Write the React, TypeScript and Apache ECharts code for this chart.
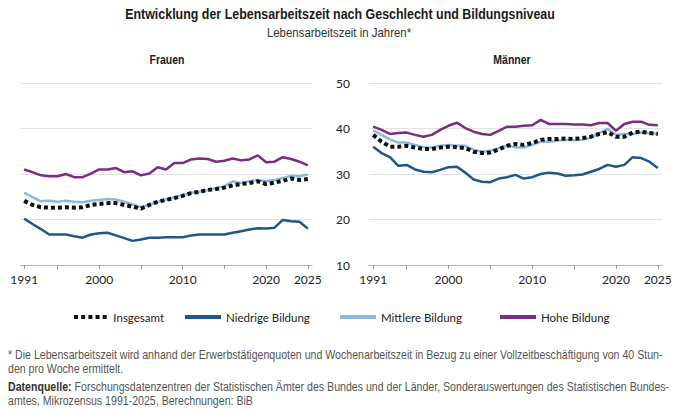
import React, { useEffect, useRef } from "react";
import * as echarts from "echarts";

const years = [
  1991, 1992, 1993, 1994, 1995, 1996, 1997, 1998, 1999, 2000,
  2001, 2002, 2003, 2004, 2005, 2006, 2007, 2008, 2009, 2010,
  2011, 2012, 2013, 2014, 2015, 2016, 2017, 2018, 2019, 2020,
  2021, 2022, 2023, 2024, 2025,
];

const tickYears = [1991, 1995, 2000, 2005, 2010, 2015, 2020, 2025];
const labelYears = [1991, 2000, 2010, 2020, 2025];

// Frauen
const frauenInsgesamt = [
  24.1, 23.2, 22.7, 22.6, 22.6, 22.7, 22.6, 22.7, 23.2, 23.4,
  23.6, 23.6, 23.2, 22.8, 22.4, 23.2, 23.9, 24.3, 24.7, 25.2,
  25.8, 26.1, 26.5, 26.7, 27.0, 27.5, 27.8, 28.0, 28.4, 27.8,
  28.1, 28.5, 29.0, 28.7, 28.9,
];
const frauenNiedrig = [
  20.2, 19.0, 17.9, 16.7, 16.7, 16.7, 16.3, 16.0, 16.7, 17.0,
  17.1, 16.5, 15.9, 15.3, 15.6, 16.0, 16.0, 16.1, 16.1, 16.1,
  16.5, 16.7, 16.7, 16.7, 16.7, 17.1, 17.4, 17.8, 18.1, 18.0,
  18.2, 19.9, 19.6, 19.5, 18.0,
];
const frauenMittel = [
  25.9, 24.9, 24.0, 24.1, 23.9, 24.1, 23.9, 23.8, 24.1, 24.3,
  24.5, 24.4, 23.9, 23.3, 22.7, 23.2, 23.9, 24.4, 24.9, 25.3,
  25.9, 26.1, 26.5, 26.9, 27.3, 28.4, 28.0, 28.4, 28.7, 28.4,
  28.7, 29.1, 29.6, 29.5, 29.9,
];
const frauenHoch = [
  31.0, 30.4, 29.7, 29.5, 29.5, 30.0, 29.3, 29.3, 30.1, 31.0,
  31.0, 31.3, 30.4, 30.6, 29.7, 30.1, 31.5, 31.0, 32.4, 32.4,
  33.2, 33.4, 33.3, 32.7, 32.9, 33.4, 33.0, 33.2, 34.1, 32.6,
  32.7, 33.7, 33.3, 32.7, 31.9,
];

// Männer
const maennerInsgesamt = [
  38.6, 37.1, 36.0, 36.0, 36.2, 35.8, 35.5, 35.5, 35.8, 36.0,
  35.9, 35.7, 34.9, 34.6, 34.7, 35.4, 36.2, 36.6, 36.4, 36.8,
  37.5, 37.7, 37.7, 37.8, 37.7, 37.9, 38.2, 38.8, 39.2, 38.2,
  38.2, 39.1, 39.3, 39.0, 38.8,
];
const maennerNiedrig = [
  36.0, 34.6, 33.7, 31.8, 32.0, 31.0, 30.5, 30.4, 30.9, 31.5,
  31.6, 30.3, 28.8, 28.3, 28.2, 29.0, 29.3, 29.8, 29.0, 29.3,
  30.0, 30.3, 30.1, 29.6, 29.7, 29.9, 30.5, 31.1, 32.0, 31.6,
  32.0, 33.7, 33.5, 32.7, 31.3,
];
const maennerMittel = [
  39.6, 38.6, 37.6, 36.9, 36.9, 36.4, 35.9, 35.8, 36.2, 36.4,
  36.2, 36.2, 35.3, 34.9, 35.1, 35.7, 36.2, 35.9, 35.8, 36.4,
  37.1, 37.1, 37.3, 37.5, 37.4, 37.5, 38.0, 39.0, 39.9, 38.6,
  38.8, 38.8, 39.1, 39.0, 38.8,
];
const maennerHoch = [
  40.4, 39.7, 38.8, 39.0, 39.1, 38.6, 38.2, 38.6, 39.7, 40.6,
  41.3, 40.1, 39.3, 38.8, 38.6, 39.5, 40.4, 40.4, 40.6, 40.7,
  41.9, 41.0, 41.0, 41.0, 40.9, 40.9, 40.7, 41.2, 41.2, 39.5,
  41.0, 41.5, 41.5, 40.8, 40.7,
];

const NAMES = ["Insgesamt", "Niedrige Bildung", "Mittlere Bildung", "Hohe Bildung"];
const COLORS = ["#111111", "#1d5888", "#8fb8df", "#7b2c83"];

const NARROW = "'Liberation Sans', Arial, sans-serif";
const SANS = "Lato, 'Open Sans', sans-serif";

const DOTS_ICON =
  "path://M0,0h4.4v4.4h-4.4z M7.9,0h4.4v4.4h-4.4z M15.8,0h4.4v4.4h-4.4z M23.7,0h4.4v4.4h-4.4z M31.6,0h4.4v4.4h-4.4z";

function pairs(vals: number[]) {
  return years.map((y, i) => [y, vals[i]]);
}

function lineSeries(name: string, vals: number[], idx: number, z: number) {
  const ci = NAMES.indexOf(name);
  const dotted = ci === 0;
  return {
    type: "line",
    name,
    xAxisIndex: idx,
    yAxisIndex: idx,
    data: pairs(vals),
    symbol: "none",
    z,
    lineStyle: {
      color: COLORS[ci],
      width: dotted ? 4 : 2.5,
      type: dotted ? [4, 3] : "solid",
      cap: "butt",
    },
    itemStyle: { color: COLORS[ci] },
  };
}

function narrowText(
  text: string,
  x: number,
  y: number,
  size: number,
  scaleX: number,
  opts: { bold?: boolean; fill?: string; align?: string; rich?: any } = {}
) {
  return {
    type: "text",
    x,
    y,
    scaleX,
    style: {
      text,
      fontFamily: NARROW,
      fontWeight: opts.bold ? "bold" : "normal",
      fontSize: size,
      fill: opts.fill || "#1a1a1a",
      textAlign: opts.align || "left",
      textVerticalAlign: "middle",
      rich: opts.rich,
    },
  };
}

export default function App() {
  const ref = useRef<HTMLDivElement>(null);

  useEffect(() => {
    if (!ref.current) return;
    const chart = echarts.init(ref.current, undefined, { renderer: "svg" });

    const xAxisBase = (gridIndex: number) => ({
      type: "value",
      gridIndex,
      min: 1990.5,
      max: 2025.5,
      axisLine: { show: true, lineStyle: { color: "#b5b5b5", width: 1 } },
      axisTick: {
        show: true,
        customValues: tickYears,
        length: 4,
        lineStyle: { color: "#999" },
      },
      axisLabel: {
        customValues: labelYears,
        formatter: (v: number) => String(v),
        color: "#222",
        fontSize: 12,
        fontFamily: SANS,
        margin: 8,
      },
      splitLine: { show: false },
    });

    const yAxisBase = (gridIndex: number, showLabels: boolean) => ({
      type: "value",
      gridIndex,
      min: 10,
      max: 50,
      interval: 10,
      axisLine: { show: false },
      axisTick: { show: false },
      axisLabel: {
        show: showLabels,
        color: "#222",
        fontSize: 12,
        fontFamily: SANS,
        margin: 19,
      },
      splitLine: { show: true, lineStyle: { color: "#e2e2e2", width: 1 } },
    });

    const legendLefts = [74, 185, 340, 500];

    const option = {
      animation: false,
      textStyle: { fontFamily: SANS },
      grid: [
        { left: 20, width: 292, top: 83, height: 182 },
        { left: 369, width: 293, top: 83, height: 182 },
      ],
      xAxis: [xAxisBase(0), xAxisBase(1)],
      yAxis: [yAxisBase(0, false), yAxisBase(1, true)],
      legend: NAMES.map((n, i) => ({
        data: [{ name: n, icon: i === 0 ? DOTS_ICON : "rect" }],
        left: legendLefts[i],
        top: 311,
        padding: 0,
        itemWidth: 36,
        itemHeight: 4,
        itemGap: 5,
        selectedMode: false,
        textStyle: { color: "#222", fontSize: 11.5, fontFamily: SANS, padding: [0, 0, 0, 0] },
      })),
      series: [
        lineSeries("Niedrige Bildung", frauenNiedrig, 0, 2),
        lineSeries("Mittlere Bildung", frauenMittel, 0, 3),
        lineSeries("Hohe Bildung", frauenHoch, 0, 4),
        lineSeries("Insgesamt", frauenInsgesamt, 0, 5),
        lineSeries("Niedrige Bildung", maennerNiedrig, 1, 2),
        lineSeries("Mittlere Bildung", maennerMittel, 1, 3),
        lineSeries("Hohe Bildung", maennerHoch, 1, 4),
        lineSeries("Insgesamt", maennerInsgesamt, 1, 5),
      ],
      graphic: [
        narrowText(
          "Entwicklung der Lebensarbeitszeit nach Geschlecht und Bildungsniveau",
          340, 14, 14.5, 0.858, { bold: true, align: "center" }
        ),
        narrowText("Lebensarbeitszeit in Jahren*", 339, 33, 13, 0.88, { fill: "#333", align: "center" }),
        narrowText("Frauen", 167, 60, 12.5, 0.84, { bold: true, align: "center" }),
        narrowText("Männer", 512, 60, 12.5, 0.84, { bold: true, align: "center" }),
        narrowText(
          "* Die Lebensarbeitszeit wird anhand der Erwerbstätigenquoten und Wochenarbeitszeit in Bezug zu einer Vollzeitbeschäftigung von 40 Stun-",
          8, 355, 12.5, 0.848, { fill: "#555" }
        ),
        narrowText("den pro Woche ermittelt.", 8, 369, 12.5, 0.848, { fill: "#555" }),
        narrowText(
          "{b|Datenquelle:} Forschungsdatenzentren der Statistischen Ämter des Bundes und der Länder, Sonderauswertungen des Statistischen Bundes-",
          8, 387, 12.5, 0.848,
          {
            fill: "#555",
            rich: { b: { fontFamily: NARROW, fontSize: 12.5, fontWeight: "bold", fill: "#333" } },
          }
        ),
        narrowText("amtes, Mikrozensus 1991-2025, Berechnungen: BiB", 8, 401, 12.5, 0.848, { fill: "#555" }),
      ],
    };

    chart.setOption(option as any);
    return () => chart.dispose();
  }, []);

  return (
    <div
      ref={ref}
      style={{ position: "fixed", left: 0, top: 0, width: 680, height: 412, background: "#fff" }}
    />
  );
}
